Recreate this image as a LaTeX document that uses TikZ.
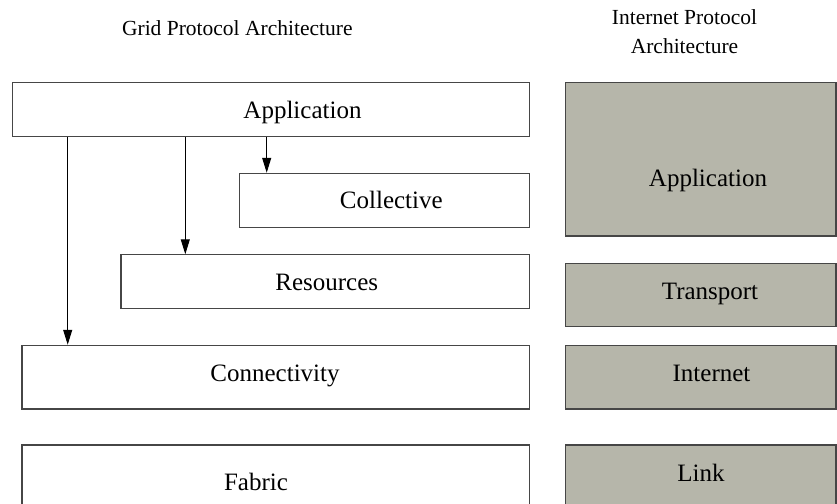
\documentclass[tikz,border=0pt]{standalone}
\usepackage{fontspec}
\setmainfont{Liberation Serif}
\usetikzlibrary{arrows.meta,fit}
\definecolor{boxgray}{RGB}{182,182,170}
\definecolor{edge}{RGB}{70,70,70}
\tikzset{
  layer/.style={draw=edge, line width=1.1pt, rectangle, inner sep=0pt},
  grid/.style={layer, fill=white},
  inet/.style={layer, fill=boxgray},
  lbl/.style={anchor=base, inner sep=0pt, font=\fontsize{25}{28}\selectfont},
  ttl/.style={anchor=base, inner sep=0pt, font=\fontsize{21.5}{28}\selectfont},
  arr/.style={draw=black, line width=1pt, -{Triangle[length=15pt,width=9pt]}}
}
\begin{document}
\begin{tikzpicture}[x=1pt,y=-1pt]
\useasboundingbox (0,0) rectangle (837,503);
\clip (0,0) rectangle (837,503);
% Grid stack (white)
\node[grid, fit={(12.7,82.3) (529.3,136.7)}] (app) {};
\node[grid, fit={(239.3,173.3) (529.3,227.3)}] (coll) {};
\node[grid, fit={(121,254.8) (529.3,308.5)}] (res) {};
\node[grid, fit={(22,345.3) (529.3,409)}] (conn) {};
\node[grid, fit={(22,445) (529.3,520)}] (fab) {};
% Internet stack (gray)
\node[inet, fit={(565.3,82.3) (836,236)}] (iapp) {};
\node[inet, fit={(565.3,263.3) (836,326.7)}] (itr) {};
\node[inet, fit={(565.3,345.3) (836,409)}] (iin) {};
\node[inet, fit={(565.3,445) (836,520)}] (ili) {};
% labels
\node[lbl] (tapp) at (302.5,118.3) {Application};
\node[lbl] (tcoll) at (391.3,208.3) {Collective};
\node[lbl] (tres) at (326.7,290) {Resources};
\node[lbl] (tconn) at (275,381.5) {Connectivity};
\node[lbl] (tfab) at (256,490.5) {Fabric};
\node[lbl] (tiapp) at (708,186) {Application};
\node[lbl] (titr) at (710,299.3) {Transport};
\node[lbl] (tiin) at (711.5,381.7) {Internet};
\node[lbl] (tili) at (701,481.7) {Link};
% titles
\node[ttl] (tgrid) at (237.3,36) {Grid Protocol Architecture};
\node[ttl] (tinet1) at (684.5,25) {Internet Protocol};
\node[ttl] (tinet2) at (684.5,53) {Architecture};
% arrows
\coordinate (xa) at (67.7,0);
\coordinate (xb) at (185.3,0);
\coordinate (xc) at (266.7,0);
\draw[arr] (xa |- app.south) -- (xa |- conn.north);
\draw[arr] (xb |- app.south) -- (xb |- res.north);
\draw[arr] (xc |- app.south) -- (xc |- coll.north);
\end{tikzpicture}
\end{document}
